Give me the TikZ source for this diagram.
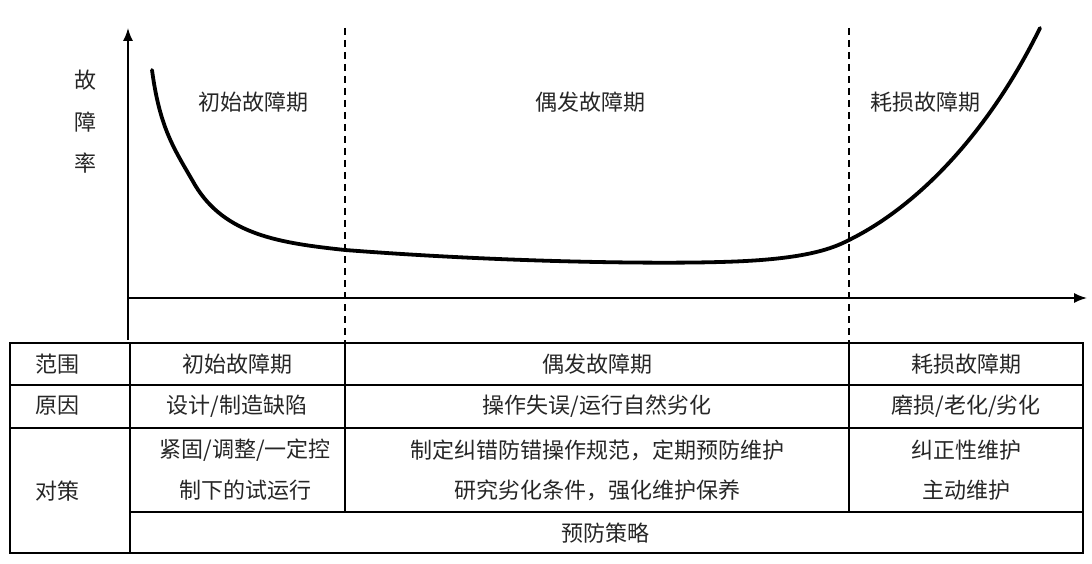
\documentclass[tikz,border=0pt]{standalone}
\usepackage{fontspec}
\newfontfamily\cjk{Noto Sans CJK SC}
\usetikzlibrary{arrows.meta}
\begin{document}
\begin{tikzpicture}[x=1pt,y=-1pt,
  lbl/.style={font=\cjk\fontsize{22}{26}\selectfont,text=black!85,inner sep=0pt},
  grid/.style={line width=1.4pt},
  ax/.style={line width=1.6pt,-{Latex[length=13pt,width=10pt]}}]
\useasboundingbox (0,0) rectangle (1092,564);
\coordinate (o) at (128,340);
\coordinate (ytop) at (128,28);
\coordinate (xs) at (128,298);
\coordinate (xe) at (1087,298);
\draw[ax] (o) -- (ytop);
\draw[ax] (xs) -- (xe);
\draw[dash pattern=on 7pt off 5pt,line width=1.3pt] (345,28) -- (345,343);
\draw[dash pattern=on 7pt off 5pt,line width=1.3pt] (849,28) -- (849,343);
\draw[line width=3.8pt,line cap=round] (152,70) .. controls (160,130) and (175,150) .. (195,185)
  .. controls (225,235) and (280,243) .. (345,250)
  .. controls (500,262) and (650,264) .. (720,262)
  .. controls (800,260) and (830,250) .. (849,240)
  .. controls (920,205) and (990,130) .. (1040,28);
\node[lbl] (r1) at (85,80) {故};
\node[lbl] (r2) at (85,122) {障};
\node[lbl] (r3) at (85,163) {率};
\node[lbl] (p1) at (253,102) {初始故障期};
\node[lbl] (p2) at (590,102) {偶发故障期};
\node[lbl] (p3) at (925,102) {耗损故障期};
% table
\draw[grid] (10,343) rectangle (1083,553);
\draw[grid] (10,385) -- (1083,385);
\draw[grid] (10,428) -- (1083,428);
\draw[grid] (130,512) -- (1083,512);
\draw[grid] (130,343) -- (130,553);
\draw[grid] (345,343) -- (345,512);
\draw[grid] (849,343) -- (849,512);
\node[lbl] (a0) at (57,364) {范围};
\node[lbl] (a1) at (237,364) {初始故障期};
\node[lbl] (a2) at (597,364) {偶发故障期};
\node[lbl] (a3) at (966,364) {耗损故障期};
\node[lbl] (b0) at (57,406) {原因};
\node[lbl] (b1) at (237,406) {设计/制造缺陷};
\node[lbl] (b2) at (597,406) {操作失误/运行自然劣化};
\node[lbl] (b3) at (966,406) {磨损/老化/劣化};
\node[lbl] (c0) at (57,491) {对策};
\node[lbl] (c1) at (245,450) {紧固/调整/一定控};
\node[lbl] (c1b) at (245,490) {制下的试运行};
\node[lbl] (c2) at (597,450) {制定纠错防错操作规范，定期预防维护};
\node[lbl] (c2b) at (597,490) {研究劣化条件，强化维护保养};
\node[lbl] (c3) at (966,450) {纠正性维护};
\node[lbl] (c3b) at (966,490) {主动维护};
\node[lbl] (d) at (605,533) {预防策略};
\end{tikzpicture}
\end{document}
